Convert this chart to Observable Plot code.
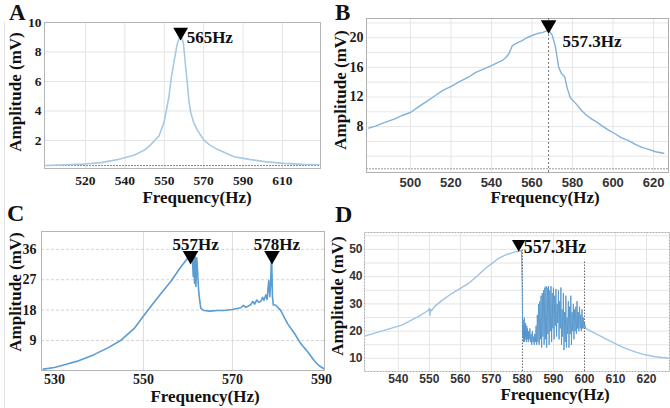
<!DOCTYPE html>
<html><head><meta charset="utf-8">
<script src="https://cdn.jsdelivr.net/npm/d3@7"></script>
<script src="https://cdn.jsdelivr.net/npm/@observablehq/plot@0.6"></script>
<style>
body{margin:0;background:#fff;}
#root{position:relative;width:670px;height:408px;overflow:hidden;background:#fff;}
.panel{position:absolute;overflow:visible;}
.panel svg{position:absolute;left:0;top:0;overflow:visible;}
.panel svg text{font-family:"Liberation Serif","Times New Roman",serif;font-weight:bold;fill:#1a1a1a;}
.t{position:absolute;font-family:"Liberation Serif","Times New Roman",serif;font-weight:bold;color:#111;white-space:nowrap;line-height:0.8;}
.rot{transform:translate(-50%,-50%) rotate(-90deg);}
.ctr{transform:translate(-50%,-50%);}
.pa svg text{font-size:13.5px;}
.pb svg text{font-size:14px;}
.pc svg text{font-size:14px;}
.pb svg [aria-label^="x-axis"] text{font-family:"Liberation Sans",Arial,sans-serif;font-size:13px;fill:#333;}
.pd svg [aria-label^="x-axis"] text{font-family:"Liberation Sans",Arial,sans-serif;font-size:12px;fill:#333;}
.pd svg [aria-label^="y-axis"] text{font-family:"Liberation Sans",Arial,sans-serif;font-size:12px;fill:#333;}
.panel svg text.mk{font-size:17px;fill:#111;}
.pd svg text.mk{font-size:18px;}
#edge{position:absolute;left:4px;top:22px;width:1px;height:386px;background:#e2e2e2;}
</style></head>
<body><div id="root"><div id="edge"></div></div>
<script>
// ---------- Panel A ----------
const aHz  = [489.7,500,509.2,518,526.1,534.6,540,543,547.3,549.8,551,552.4,553.5,554.9,556.5,557.5,558.3,559.7,560.7,561.7,562.5,563.4,565,566.8,570.2,573,576.9,585.4,593.9,602,610.8,620,628.6];
const aAmp = [0.3,0.35,0.4,0.5,0.7,1.0,1.35,1.7,2.3,3.2,4.0,5.0,6.2,7.3,8.5,8.9,9.2,8.6,7.2,5.9,4.7,3.9,3.2,2.7,2.0,1.7,1.4,0.9,0.7,0.55,0.45,0.38,0.35];
const aTicks = [510,530,550,570,590,610];
const aTickLabels = ["520","540","550","570","590","610"];
const aYTicks = [2,4,6,8,10];
const aMarkHz = [558.3], aMarkAmp = [9.36], aMarkText = ["565Hz"];

// ---------- Panel B ----------
const bHz  = [479.4,483,487.7,492,495.9,500,504.1,508,512.3,516,520.6,524.5,528.8,532,535.4,538,539.8,542,545.2,547,548.5,549.5,550.2,552,555.1,557.5,560,563,565,567,568.3,569.9,571.5,573.2,574.5,576.2,577.3,578.9,582,584.7,587,589.6,592,594.6,598,601.2,604,607.7,611,614.3,618,621,625];
const bAmp = [7.8,8.1,8.6,9.0,9.5,9.9,10.7,11.4,12.2,12.9,13.5,14.1,14.7,15.3,15.7,16.0,16.2,16.5,16.9,17.3,17.8,18.4,18.9,19.2,19.6,20.0,20.3,20.6,20.7,20.9,21.0,20.4,18.9,16.0,15.2,14.7,13.3,11.9,11.0,10.1,9.5,9.0,8.6,8.1,7.5,7.0,6.5,6.1,5.6,5.2,4.9,4.6,4.4];
const bTicks = [500,520,540,560,580,600,620];
const bTickLabels = ["500","520","540","560","580","600","620"];
const bYTicks = [8,12,16,20];
const bYGrid = [4,6,8,10,12,14,16,18,20,22];
const bMarkHz = [568.2], bMarkAmp = [21.75], bMarkText = ["557.3Hz"];

// ---------- Panel C ----------
const cHz  = [527.5,530,532.9,535,538.9,542,544.9,547.9,550.1,553.1,556.1,558.4,559.9,560.6,561.0,561.2,561.3,561.5,561.6,561.8,562.0,562.2,562.4,562.6,562.9,563.6,565,566.6,568.1,570,571.9,572.5,573,574.1,574.6,575,575.5,576,576.4,576.8,577.1,577.5,577.8,578.0,578.2,578.4,578.6,578.8,579.0,579.2,579.7,580.8,582.4,584,585.4,587,588.4,589.5,590.6];
const cAmp = [0.5,1.0,2.0,2.8,4.8,6.8,9.0,12.5,16.4,21.5,26.4,30.8,33.3,33.8,34.0,28,34.5,26,34,25,33.5,29,24,21.5,18.5,17.9,17.7,17.9,17.9,18.2,18.7,19.4,18.8,19.6,20.6,19.8,21.0,20.3,20.6,21.8,20.9,22.5,21.2,24.5,26.8,22.0,25.5,35.3,22.0,19.5,19.5,18.0,14.0,11.0,8.0,5.5,3.0,1.5,0.6];
const cTicks = [530,550,570,590];
const cTickLabels = ["530","550","570","590"];
const cYTicks = [9,18,27,36];
const cMarkHz = [560.6,578.9], cMarkAmp = [34.2,34.2], cMarkText = ["557Hz","578Hz"];

// ---------- Panel D ----------
const dPreHz  = [529.1,535.7,541.1,546.4,549.5,550.0,550.2,550.4,550.7,551.8,554,557.2,560,562.6,565.8,568,570.1,572,574.4,577.6,579.7];
const dPreAmp = [18.2,20.4,22.2,25.3,27.5,28.3,25.8,28.0,27.5,29.2,31.2,33.8,35.7,37.5,40.6,43,44.8,46.5,47.9,49.1,49.5];
const dChaosHz  = [579.7,579.9,580.0,580.1,580.2,580.3,580.4,580.5,580.6,580.7,580.8,580.9,581.0,581.1,581.2,581.3,581.4,581.5,581.6,581.7,581.8,581.9,582.0,582.2,582.4,582.6,582.8,583.0,583.2,583.4,583.6,583.8,584.0,584.2,584.4,584.6,584.8,585.0,585.2,585.4,585.6,585.8,586.0,586.2,586.4,586.6,586.8,587.0,587.2,587.4,587.6,587.8,588.0,588.2,588.4,588.6,588.8,589.0,589.2,589.4,589.6,589.8,590.0,590.2,590.4,590.6,590.8,591.0,591.2,591.4,591.6,591.8,592.0,592.2,592.4,592.6,592.8,593.0,593.2,593.4,593.6,593.8,594.0,594.2,594.4,594.6,594.8,595.0,595.2,595.4,595.6,595.8,596.0,596.2,596.4,596.6,596.8,597.0,597.2,597.4,597.6,597.8,598.0,598.2,598.4,598.6,598.8,599.0,599.2,599.4,599.6,599.8,600.0,600.4];
const dChaosAmp = [49.5,38,29,18,24,16,22,17,25,16,21,18,23,17,20,16,22,18,21,17,19,16,20,17,21,16,19,15,20,16,18,15,19,16,22,15,26,16,30,15,31,17,33,14,34,18,35,15,36,17,36.5,14,36,19,36.5,15,35,20,36.5,16,34,21,36,17,33,22,35.5,18,30,23,35,17,31,21,36,15,28,18,34,13,27,16,33,14,25,19,31,14,29,19,33,15,27,20,30,17,28,20,29,19,31,21,27,20,29,21,26,20,28,21,25,21,23,21];
const dPostHz  = [600.4,602,605.5,608,610.9,613,616.3,619,622.7,627.5];
const dPostAmp = [21,20,18,16.5,14.9,13.8,12.4,11.5,10.6,10.0];
const dTicks = [540,550,560,570,580,590,600,610,620];
const dTickLabels = ["540","550","560","570","580","590","600","610","620"];
const dYTicks = [10,20,30,40,50];
const dYGrid = [10,15,20,25,30,35,40,45,50,55];
const dVLineHz = [580,600], dVLineTop = [50,46];
const dMarkHz = [578.8], dMarkAmp = [52.0], dMarkText = ["557.3Hz"];

const pts = (xs, ys) => xs.map((x, i) => ({x, y: ys[i]}));
const marks = (hz, amp, txt) => hz.map((x, i) => ({x, y: amp[i], t: txt[i]}));
const fmt = (ticks, labels) => { const m = new Map(ticks.map((t, i) => [t, labels[i]])); return d => m.get(d) ?? ""; };

function addPanel(cls, left, top, w, h, svg, texts) {
  const div = document.createElement("div");
  div.className = "panel " + cls;
  Object.assign(div.style, {left: left + "px", top: top + "px", width: w + "px", height: h + "px"});
  div.appendChild(svg);
  for (const t of texts) {
    const s = document.createElement("div");
    s.className = "t " + (t.cls || "");
    s.textContent = t.text;
    Object.assign(s.style, {left: t.x + "px", top: t.y + "px", fontSize: t.size + "px"});
    div.appendChild(s);
  }
  document.getElementById("root").appendChild(div);
}
function tagMarks(svg) {
  svg.querySelectorAll('g[aria-label="text"] text').forEach(t => t.classList.add("mk"));
  return svg;
}

// Panel A
const svgA = Plot.plot({
  width: 335, height: 200, marginLeft: 44, marginRight: 15, marginTop: 22, marginBottom: 32,
  style: {background: "transparent", overflow: "visible"},
  x: {domain: [489.2, 629.3], ticks: aTicks, tickFormat: fmt(aTicks, aTickLabels), tickSize: 0, tickPadding: 7, label: null},
  y: {domain: [0.1, 10], ticks: aYTicks, tickSize: 0, tickPadding: 3, label: null},
  marks: [
    Plot.ruleX(aTicks, {stroke: "#e4e4e4"}),
    Plot.ruleY(aYTicks.slice(0, 4), {stroke: "#e4e4e4"}),
    Plot.ruleY([0.3], {stroke: "#888", strokeDasharray: "2,1"}),
    Plot.frame({stroke: "#b5b5b5"}),
    Plot.line(pts(aHz, aAmp), {x: "x", y: "y", stroke: "#a8c9e4", strokeWidth: 1.6, clip: true}),
    Plot.dot(marks(aMarkHz, aMarkAmp, aMarkText), {x: "x", y: "y", symbol: "triangle", rotate: 180, r: 5.5, fill: "#000", stroke: "none"}),
    Plot.text(marks(aMarkHz, aMarkAmp, aMarkText), {x: "x", y: "y", text: "t", dx: 6, dy: 6, textAnchor: "start", fontSize: 17})
  ]
});
addPanel("pa", 0, 0, 335, 200, tagMarks(svgA), [
  {text: "A", x: 9, y: 4, size: 23},
  {text: "Amplitude (mV)", x: 16, y: 92, size: 17, cls: "rot"},
  {text: "Frequency(Hz)", x: 197, y: 197.5, size: 17, cls: "ctr"}
]);

// Panel B
const svgB = Plot.plot({
  width: 335, height: 200, marginLeft: 31, marginRight: 2, marginTop: 18, marginBottom: 28,
  style: {background: "transparent", overflow: "visible"},
  x: {domain: [478.3, 627.4], ticks: bTicks, tickFormat: fmt(bTicks, bTickLabels), tickSize: 0, tickPadding: 5, label: null},
  y: {domain: [1.8, 22.6], ticks: bYTicks, tickSize: 0, tickPadding: 3, label: null},
  marks: [
    Plot.ruleX(bTicks, {stroke: "#e6e6e6"}),
    Plot.ruleY(bYGrid, {stroke: "#e6e6e6"}),
    Plot.ruleY([2.3], {stroke: "#999", strokeDasharray: "2,1"}),
    Plot.frame({stroke: "#b0b0b0"}),
    Plot.ruleX(marks(bMarkHz, bMarkAmp, bMarkText), {x: "x", stroke: "#777", strokeDasharray: "2,2"}),
    Plot.line(pts(bHz, bAmp), {x: "x", y: "y", stroke: "#80b2da", strokeWidth: 1.4, clip: true}),
    Plot.dot(marks(bMarkHz, bMarkAmp, bMarkText), {x: "x", y: "y", symbol: "triangle", rotate: 180, r: 5.8, fill: "#000", stroke: "none"}),
    Plot.text(marks(bMarkHz, bMarkAmp, bMarkText), {x: "x", y: "y", text: "t", dx: 14, dy: 17, textAnchor: "start", fontSize: 17})
  ]
});
addPanel("pb", 335, 0, 335, 200, tagMarks(svgB), [
  {text: "B", x: 0, y: 4, size: 23},
  {text: "Amplitude (mV)", x: 6, y: 90, size: 17, cls: "rot"},
  {text: "Frequency(Hz)", x: 210, y: 198, size: 17, cls: "ctr"}
]);

// Panel C
const svgC = Plot.plot({
  width: 335, height: 208, marginLeft: 41, marginRight: 11, marginTop: 31, marginBottom: 38,
  style: {background: "transparent", overflow: "visible"},
  x: {domain: [527.1, 590.7], ticks: cTicks, tickFormat: fmt(cTicks, cTickLabels), tickSize: 0, tickPadding: 4, label: null},
  y: {domain: [0.1, 41.3], ticks: cYTicks, tickSize: 0, tickPadding: 5, label: null},
  marks: [
    Plot.ruleX([550, 570], {stroke: "#dcdcdc"}),
    Plot.ruleY(cYTicks, {stroke: "#d4d4d4", strokeDasharray: "3,2"}),
    Plot.frame({stroke: "#b5b5b5"}),
    Plot.line(pts(cHz, cAmp), {x: "x", y: "y", stroke: "#5b9cd2", strokeWidth: 1.6, clip: true}),
    Plot.dot(marks(cMarkHz, cMarkAmp, cMarkText), {x: "x", y: "y", symbol: "triangle", rotate: 180, r: 5.8, fill: "#000", stroke: "none"}),
    Plot.text(marks(cMarkHz, cMarkAmp, cMarkText), {x: "x", y: "y", text: "t", dx: 5, dy: -11, textAnchor: "middle", fontSize: 17})
  ]
});
addPanel("pc", 0, 200, 335, 208, tagMarks(svgC), [
  {text: "C", x: 7, y: 4, size: 24},
  {text: "Amplitude (mV)", x: 16, y: 92, size: 17, cls: "rot"},
  {text: "Frequency(Hz)", x: 205, y: 196.5, size: 17, cls: "ctr"}
]);

// Panel D
const svgD = Plot.plot({
  width: 335, height: 208, marginLeft: 29, marginRight: 1, marginTop: 32, marginBottom: 37,
  style: {background: "transparent", overflow: "visible"},
  x: {domain: [529.1, 627.4], ticks: dTicks, tickFormat: fmt(dTicks, dTickLabels), tickSize: 0, tickPadding: 3, label: null},
  y: {domain: [5.2, 56.2], ticks: dYTicks, tickSize: 0, tickPadding: 2, label: null},
  marks: [
    Plot.ruleX(dTicks.filter(t => t !== 580 && t !== 600), {stroke: "#e4e4e4"}),
    Plot.ruleY(dYGrid, {stroke: "#e4e4e4"}),
    Plot.frame({stroke: "#aaa", strokeDasharray: "2,1"}),
    Plot.ruleX(dVLineHz.map((x, i) => ({x, y2: dVLineTop[i]})), {x: "x", y1: 5.2, y2: "y2", stroke: "#666", strokeDasharray: "1.5,1.5"}),
    Plot.line(pts(dPreHz, dPreAmp), {x: "x", y: "y", stroke: "#9ec3e3", strokeWidth: 1.4, clip: true}),
    Plot.line(pts(dChaosHz, dChaosAmp), {x: "x", y: "y", stroke: "#5494cb", strokeWidth: 0.9, clip: true}),
    Plot.line(pts(dPostHz, dPostAmp), {x: "x", y: "y", stroke: "#9ec3e3", strokeWidth: 1.4, clip: true}),
    Plot.dot(marks(dMarkHz, dMarkAmp, dMarkText), {x: "x", y: "y", symbol: "triangle", rotate: 180, r: 5, fill: "#000", stroke: "none"}),
    Plot.text(marks(dMarkHz, dMarkAmp, dMarkText), {x: "x", y: "y", text: "t", dx: 5, dy: 3, textAnchor: "start", fontSize: 18})
  ]
});
addPanel("pd", 335, 200, 335, 208, tagMarks(svgD), [
  {text: "D", x: 0, y: 5, size: 24},
  {text: "Amplitude (mV)", x: 3, y: 96, size: 17, cls: "rot"},
  {text: "Frequency(Hz)", x: 220, y: 194.5, size: 17, cls: "ctr"}
]);
</script>
</body></html>
